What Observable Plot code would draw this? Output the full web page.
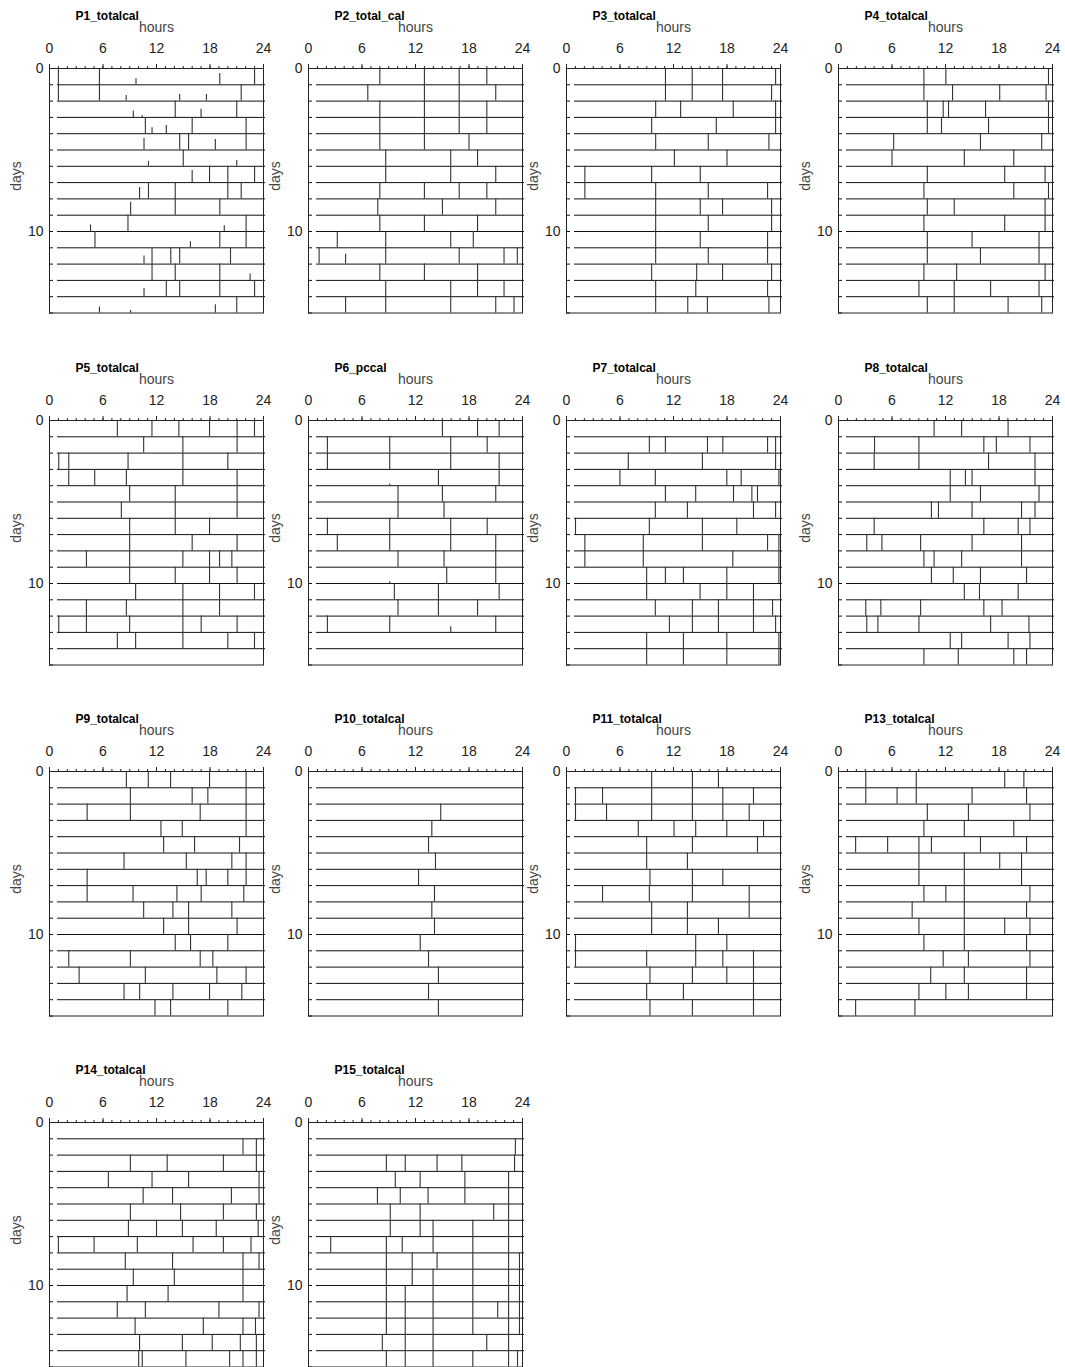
<!DOCTYPE html>
<html><head><meta charset="utf-8">
<script src="https://cdn.jsdelivr.net/npm/d3@7"></script>
<script src="https://cdn.jsdelivr.net/npm/@observablehq/plot@0.6"></script>
<style>
body{margin:0;background:#fff;}
#c{position:relative;width:1065px;height:1367px;overflow:hidden;font-family:"Liberation Sans",Arial,sans-serif;}
#c svg{position:absolute;overflow:visible;}
</style></head><body><div id="c"></div>
<script>
// axis values
const hourTicks = [0, 6, 12, 18, 24];
const hourMinor = d3.range(0, 25);
const dayLabels = [0, 10];
const dayTicks = d3.range(0, 16);
const rowLines = d3.range(1, 15);

// each panel: one array per day (row), events as hour (full bar) or [hour, relative height]
const P1 = [
  [1.0, 5.6, [9.7,.37], [19.1,.7], 23.0],
  [1.0, 5.6, [8.6,.35], [14.6,.4], [17.6,.4], 21.5],
  [[9.4,.4], [10.4,.1], 14.1, [17.0,.5], 21.0],
  [10.75, [11.5,.37], [13.1,.5], 16.0, 22.05],
  [[10.6,.7], 14.6, 15.6, [18.6,.65], 22.05],
  [[11.1,.3], 15.0, [21.0,.35]],
  [[16.0,.75], 17.95, 20.0, 23.0],
  [[10.1,.7], 11.1, 14.1, 20.0, 21.5],
  [[9.1,.8], 14.1, 19.1],
  [[4.6,.4], 8.8, [19.6,.35], 22.05],
  [5.1, [15.8,.37], 19.1, 22.05],
  [[10.6,.5], 11.5, 13.6, 14.6, 20.3],
  [11.5, 14.1, 19.1, [22.5,.4]],
  [[10.6,.5], 13.1, 14.6, 19.1, 23.0],
  [[5.6,.37], [9.1,.15], [18.6,.5], 21.0]
];
const P2 = [
  [8.0, 13.0, 16.9, 20.0],
  [6.65, 13.0, 16.9, 21.0],
  [8.0, 13.0, 16.9, 20.0],
  [8.0, 13.0, 16.9, 20.0],
  [8.0, 13.0, 18.0],
  [8.66, 15.95, 18.96],
  [8.66, 15.95, 21.0],
  [8.0, 13.0, 16.9, 20.0],
  [7.77, 15.02, 21.0],
  [8.0, 13.0, 18.96],
  [3.23, 8.66, 15.95, 18.48],
  [1.19, [4.16,.6], 8.66, 16.9, 21.93, 23.42],
  [8.0, 13.0, 18.96],
  [8.66, 15.95, 18.96, 21.93],
  [4.16, 8.66, 15.95, 21.0, 23.05]
];
const P3 = [
  [11.1, 14.1, 17.5, 23.45],
  [11.1, 14.1, 17.5, 23.0],
  [10.0, 12.8, 18.7, 23.45],
  [9.55, 16.8, 23.45],
  [10.0, 15.9, 22.7],
  [12.1, 18.0],
  [2.06, 9.55, 15.0],
  [2.06, 10.0, 15.9, 22.55],
  [10.0, 15.0, 17.5, 23.0],
  [10.0, 15.9, 23.0],
  [10.0, 15.0, 22.55],
  [10.0, 15.9, 22.55],
  [9.55, 14.6, 17.5, 23.0],
  [10.0, 14.5, 22.55],
  [10.0, 13.6, 15.8, 22.7]
];
const P4 = [
  [9.58, 12.04, 23.55],
  [9.58, 12.79, 18.08, 23.28],
  [9.96, 11.74, 12.34, 16.49, 23.55],
  [9.96, 11.55, 16.83, 23.55],
  [6.19, 15.92, 22.79],
  [6.0, 14.11, 19.66],
  [9.96, 18.64, 23.17],
  [9.58, 19.66, 23.55],
  [9.96, 12.98, 23.17],
  [9.58, 18.64, 23.17],
  [9.96, 14.98, 22.49],
  [9.96, 15.92, 22.49],
  [9.58, 13.25, 23.17],
  [9.02, 12.98, 17.06, 22.49],
  [9.96, 12.98, 19.02, 22.79]
];
const P5 = [
  [7.61, 11.49, 14.51, 17.95, 21.04, 22.99],
  [10.56, 14.96, 21.04],
  [1.04, 2.16, 8.81, 14.96, 20.0],
  [2.16, 5.07, 8.62, 14.96, 21.04],
  [8.99, 14.1, 21.04],
  [8.06, 14.1, 21.04],
  [8.99, 14.1, 17.95],
  [8.99, 16.0, 21.04],
  [4.14, 8.99, 14.96, 17.95, 19.07, 20.45],
  [8.99, 14.1, 17.95, 21.04],
  [9.66, 14.96, 19.07, 22.99],
  [4.14, 8.62, 14.96, 19.07],
  [1.04, 4.14, 8.99, 14.96, 17.01, 21.04],
  [7.61, 9.66, 14.96, 20.0, 22.99],
  []
];
const P6 = [
  [15.02, 18.96, 21.38],
  [2.12, 9.11, 15.95, 20.04],
  [2.12, 9.11, 15.95, 21.38],
  [[9.11,.1], 14.57, 21.38],
  [10.04, 15.02, 21.0],
  [10.04, 15.2],
  [2.12, 9.11, 15.95, 20.04],
  [3.23, 9.11, 15.95, 21.0],
  [10.04, 15.2, 21.0],
  [[9.11,.1], 15.5, 21.0],
  [9.63, 14.57, 21.38],
  [10.04, 14.57, 18.96],
  [2.12, 9.11, [15.95,.35], 21.0],
  [],
  []
];
const P7 = [
  [],
  [9.29, 11.09, 15.81, 17.53, 22.55, 23.45],
  [6.93, 15.24, 23.45],
  [5.99, 9.96, 17.98, 19.59, 23.82],
  [11.09, 14.49, 18.73, 20.79, 21.42],
  [9.96, 13.56, 20.97, 23.45],
  [1.01, 9.29, 15.24, 19.1],
  [2.06, 8.61, 15.24, 22.55, 23.82],
  [2.06, 8.61, 18.65, 23.82],
  [8.99, 11.09, 13.11, 17.98, 23.82],
  [8.99, 14.98, 17.98, 20.97],
  [9.96, 14.12, 17.04, 20.97, 23.11],
  [11.54, 14.12, 17.04, 20.97, 23.45],
  [8.99, 13.11, 17.98, 23.82],
  [8.99, 13.11, 17.98, 23.82]
];
const P8 = [
  [10.72, 13.81, 19.02],
  [4.04, 9.02, 16.3, 17.7, 21.47],
  [4.0, 9.02, 16.83, 22.04],
  [12.53, 14.23, 14.98, 22.04],
  [12.53, 15.92, 22.49],
  [10.42, 11.21, 14.98, 20.53, 22.04],
  [4.0, 16.3, 20.15, 21.47],
  [3.17, 4.87, 9.21, 14.98, 20.53],
  [9.58, 10.72, 13.81, 20.53],
  [10.42, 12.87, 15.92, 21.09],
  [14.11, 15.81, 20.15],
  [3.06, 4.75, 9.21, 16.3, 18.34],
  [3.17, 4.42, 9.02, 17.06, 21.36],
  [12.53, 13.81, 19.02, 21.47],
  [9.58, 13.43, 19.66, 21.09]
];
const P9 = [
  [8.62, 11.08, 13.58, 17.95, 22.05],
  [9.07, 16.0, 17.76, 22.05],
  [4.22, 9.07, 16.9, 22.05],
  [12.5, 14.89, 22.05],
  [12.8, 16.27, 21.31],
  [8.36, 15.34, 20.45, 22.05],
  [4.22, 16.57, 17.57, 20.0, 22.05],
  [4.22, 9.37, 14.29, 17.01, 21.79],
  [10.56, 13.84, 15.6, 20.45],
  [12.8, 15.6, 21.04],
  [14.1, 15.82, 20.0],
  [2.16, 9.07, 16.9, 18.32],
  [3.32, 10.75, 18.77, 22.05],
  [8.36, 10.11, 13.84, 17.95, 21.57],
  [11.83, 13.58, 20.0]
];
const P10 = [
  [], [], [14.83], [13.83], [13.46], [14.24], [12.34], [14.13],
  [13.83], [14.13], [12.53], [13.46], [14.57], [13.46], [14.57]
];
const P11 = [
  [9.55, 14.12, 17.04],
  [1.01, 4.04, 9.55, 14.12, 17.53, 20.97],
  [1.01, 4.49, 9.55, 14.12, 17.53, 20.49],
  [8.05, 12.06, 14.49, 17.98, 22.1],
  [8.99, 14.12, 21.42],
  [8.99, 13.56],
  [9.36, 14.12, 17.53],
  [4.04, 9.29, 14.12, 20.49],
  [9.55, 13.56, 20.49],
  [9.55, 13.56, 17.04],
  [1.01, 14.49, 17.98],
  [1.01, 8.99, 14.49, 17.53, 20.97],
  [9.36, 14.12, 17.98, 20.97],
  [8.99, 13.11, 20.97],
  [9.36, 14.12, 20.97]
];
const P13 = [
  [3.06, 8.72, 18.64, 20.79],
  [3.06, 6.57, 8.72, 14.98, 21.09],
  [9.96, 14.57, 21.47],
  [9.58, 14.11, 19.66],
  [1.92, 5.51, 9.02, 10.42, 15.92, 21.09],
  [9.02, 14.11, 18.08, 20.53],
  [9.02, 14.11, 20.53],
  [9.58, 12.04, 14.11, 21.47],
  [8.26, 14.11, 21.09],
  [9.02, 14.11, 18.64, 21.47],
  [9.58, 14.11, 21.09],
  [11.74, 14.57, 21.47],
  [10.34, 14.11, 21.09],
  [9.02, 12.04, 14.57, 21.09],
  [1.92, 8.57]
];
const P14 = [
  [],
  [21.7, 23.2],
  [9.07, 13.2, 19.5, 23.2],
  [6.6, 11.5, 15.6, 23.5],
  [10.5, 13.8, 20.4, 23.5],
  [9.07, 14.7, 19.5, 23.2],
  [8.85, 12.0, 14.9, 18.7, 23.4],
  [1.0, 5.0, 9.85, 16.1, 19.5, 22.6],
  [8.5, 13.8, 21.7, 23.5],
  [9.4, 14.0, 21.7],
  [8.7, 13.3, 21.7],
  [7.6, 10.75, 19.0, 23.5],
  [9.6, 17.25, 21.7, 23.1],
  [10.1, 14.9, 18.25, 21.4, 23.2],
  [10.0, 10.4, 15.3, 20.2, 21.7, 23.2]
];
const P15 = [
  [],
  [23.2],
  [8.73, 10.85, 14.42, 17.2, 23.11],
  [9.73, 12.52, 17.54, 22.44],
  [7.73, 10.29, 13.41, 17.54, 22.44],
  [9.17, 12.52, 20.77, 22.44],
  [9.17, 12.52, 13.97, 18.43, 22.44],
  [2.49, 8.73, 10.51, 13.97, 18.43, 22.44],
  [8.73, 11.63, 14.42, 18.43, 22.44, 23.66],
  [8.73, 11.63, 13.97, 18.43, 22.44, 23.66],
  [8.73, 10.85, 13.97, 18.43, 22.44, 23.66],
  [8.73, 10.85, 13.97, 18.43, 21.22, 22.44, 23.66],
  [8.73, 10.85, 13.97, 18.43, 22.44, 23.66],
  [8.28, 10.85, 13.97, 19.99, 22.44],
  [8.73, 10.85, 13.97, 18.43, 22.44, 23.44]
];

const titles = ["P1_totalcal","P2_total_cal","P3_totalcal","P4_totalcal","P5_totalcal","P6_pccal","P7_totalcal","P8_totalcal","P9_totalcal","P10_totalcal","P11_totalcal","P13_totalcal","P14_totalcal","P15_totalcal"];
const series = [P1,P2,P3,P4,P5,P6,P7,P8,P9,P10,P11,P13,P14,P15];

const colLeft = [49, 308, 566, 838];
const rowTop = [68.3, 420, 771, 1122];
const plotW = 214, plotH = 244.5;
const mL = 50, mT = 70, mR = 10, mB = 4;
const font = '"Liberation Sans", Arial, sans-serif';
const container = document.getElementById("c");

series.forEach((rows, i) => {
  const col = i % 4, row = Math.floor(i / 4);
  const events = rows.flatMap((r, d) => r.map(e => typeof e === "number" ? {day: d, h: e, v: 1} : {day: d, h: e[0], v: e[1]}));
  const svg = Plot.plot({
    width: mL + plotW + mR, height: mT + plotH + mB,
    marginLeft: mL, marginTop: mT, marginRight: mR, marginBottom: mB,
    style: {fontFamily: font, background: "transparent", overflow: "visible"},
    x: {domain: [0, 24], axis: null, label: null},
    y: {domain: [0, 15], reverse: true, axis: null, label: null},
    marks: [
      Plot.tickY(rowLines, {y: d => d, stroke: "#111", insetLeft: 8, insetRight: -2}),
      Plot.tickY(dayTicks, {y: d => d, stroke: "#111", insetRight: plotW - 4}),
      Plot.ruleX(events, {x: "h", y1: d => d.day + 1, y2: d => d.day + 1 - d.v, stroke: "#333", strokeWidth: 1.1}),
      Plot.frame({stroke: "#222"}),
      Plot.axisX(hourMinor, {anchor: "top", tickSize: 3, tickFormat: () => "", label: null, color: "#222"}),
      Plot.axisX(hourTicks, {anchor: "top", tickSize: 5, tickPadding: 11, fontSize: 14, label: null, color: "#222"}),
      Plot.axisY(dayLabels, {anchor: "left", tickSize: 0, tickPadding: 6, fontSize: 14, label: null, color: "#222"}),
      Plot.text(["hours"], {frameAnchor: "top", dy: -37, lineAnchor: "bottom", fontSize: 14, fill: "#444"}),
      Plot.text(["days"], {frameAnchor: "left", rotate: -90, dx: -33, fontSize: 14, fill: "#444"}),
      Plot.text([titles[i]], {frameAnchor: "top-left", dx: 26, dy: -49, textAnchor: "start", lineAnchor: "bottom", fontWeight: "bold", fontSize: 12, fill: "#000", letterSpacing: "-0.4px"})
    ]
  });
  svg.style.left = (colLeft[col] - mL) + "px";
  svg.style.top = (rowTop[row] - mT) + "px";
  container.append(svg);
});
</script>
</body></html>
